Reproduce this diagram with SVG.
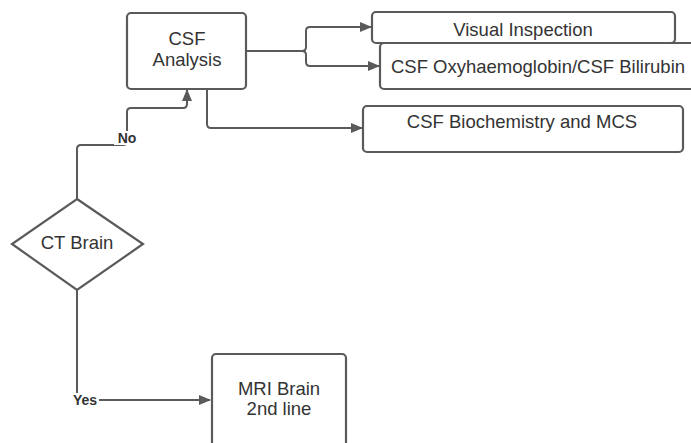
<svg xmlns="http://www.w3.org/2000/svg" width="691" height="443" viewBox="0 0 691 443">
<style>
.box{fill:#fff;stroke:#5a5a5a;stroke-width:2.2}
.t{font-family:"Liberation Sans",Arial,sans-serif;font-size:18.5px;fill:#333;text-anchor:middle}
.lbl{font-family:"Liberation Sans",Arial,sans-serif;font-size:14px;font-weight:bold;fill:#333;text-anchor:middle}
.c{fill:none;stroke:#5a5a5a;stroke-width:2;stroke-linejoin:round}
</style>
<defs>
<marker id="ah" markerWidth="12" markerHeight="10" refX="11" refY="5" orient="auto" markerUnits="userSpaceOnUse">
<path d="M0,0 L12,5 L0,10 Z" fill="#5a5a5a"/>
</marker>
</defs>
<rect width="691" height="443" fill="#fff"/>
<g id="connectors">
<path class="c" d="M246,51 H302 Q306,51 306,47 V31 Q306,27 310,27 H371" marker-end="url(#ah)"/>
<path class="c" d="M302,51 Q306,51 306,55 V62 Q306,66 310,66 H379" marker-end="url(#ah)"/>
<path class="c" d="M207,89 V124 Q207,128 211,128 H362" marker-end="url(#ah)"/>
<path class="c" d="M77,199 V149 Q77,145 81,145 H123 Q127,145 127,141 V112 Q127,108 131,108 H183 Q187,108 187,104 V90" marker-end="url(#ah)"/>
<path class="c" d="M77,290 V400 H210" marker-end="url(#ah)"/>
<rect x="114" y="131" width="25" height="14" fill="#fff"/>
<text class="lbl" x="127" y="143">No</text>
<rect x="71" y="393" width="28" height="14" fill="#fff"/>
<text class="lbl" x="85" y="405">Yes</text>
</g>
<g id="csf-analysis">
<rect class="box" x="127" y="13" width="119" height="76" rx="4"/>
<text class="t" x="187" y="45">CSF</text>
<text class="t" x="187" y="66">Analysis</text>
</g>
<g id="visual-inspection">
<rect class="box" x="372" y="12" width="303" height="31" rx="4"/>
<text class="t" x="523" y="36">Visual Inspection</text>
</g>
<g id="csf-oxy">
<rect class="box" x="380" y="43" width="320" height="46" rx="4"/>
<text class="t" x="538" y="73">CSF Oxyhaemoglobin/CSF Bilirubin</text>
</g>
<g id="csf-biochem">
<rect class="box" x="363" y="106" width="320" height="46" rx="4"/>
<text class="t" x="522" y="128">CSF Biochemistry and MCS</text>
</g>
<g id="ct-brain">
<polygon class="box" points="77,199 143,244 77,290 12,244"/>
<text class="t" x="77" y="249">CT Brain</text>
</g>
<g id="mri-brain">
<rect class="box" x="212" y="354" width="134" height="100" rx="4"/>
<text class="t" x="279" y="395">MRI Brain</text>
<text class="t" x="279" y="415">2nd line</text>
</g>
</svg>
